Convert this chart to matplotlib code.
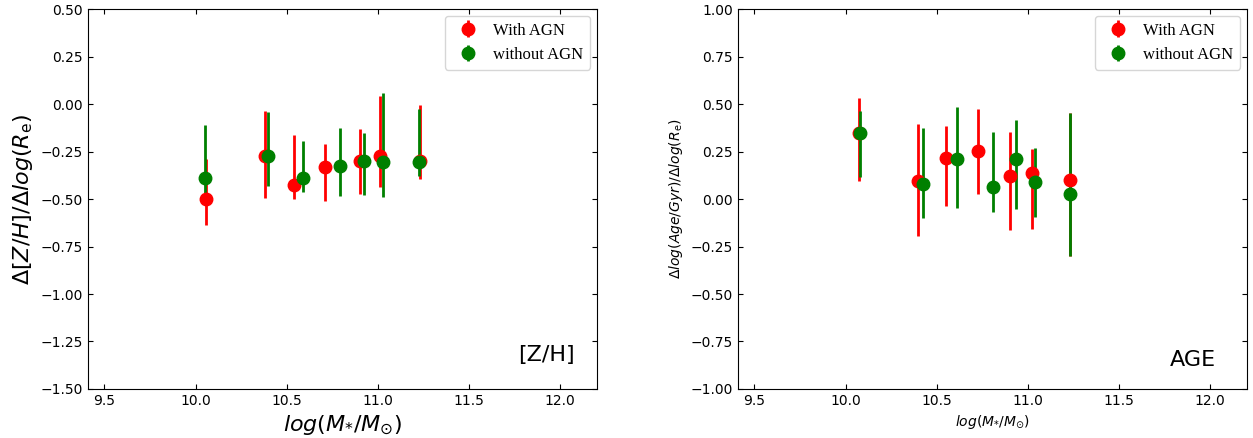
import matplotlib
matplotlib.use("Agg")
import matplotlib.pyplot as plt
import numpy as np

# [Z/H] gradients
zh_mass_agn = [10.06, 10.38, 10.54, 10.71, 10.90, 11.01, 11.23]
zh_agn = [-0.50, -0.274, -0.428, -0.333, -0.302, -0.275, -0.302]
zh_agn_lo = [-0.637, -0.493, -0.497, -0.509, -0.472, -0.435, -0.393]
zh_agn_hi = [-0.29, -0.035, -0.163, -0.212, -0.132, 0.042, -0.005]

zh_mass_noagn = [10.05, 10.40, 10.59, 10.79, 10.925, 11.03, 11.226]
zh_noagn = [-0.389, -0.274, -0.389, -0.328, -0.297, -0.307, -0.307]
zh_noagn_lo = [-0.514, -0.43, -0.465, -0.486, -0.479, -0.491, -0.38]
zh_noagn_hi = [-0.11, -0.044, -0.195, -0.128, -0.154, 0.058, -0.026]

# age gradients
age_mass_agn = [10.074, 10.395, 10.553, 10.725, 10.903, 11.021, 11.23]
age_agn = [0.346, 0.095, 0.217, 0.251, 0.123, 0.137, 0.10]
age_agn_lo = [0.095, -0.195, -0.035, 0.026, -0.163, -0.16, -0.30]
age_agn_hi = [0.53, 0.393, 0.384, 0.474, 0.351, 0.263, 0.454]

age_mass_noagn = [10.079, 10.422, 10.613, 10.81, 10.932, 11.039, 11.23]
age_noagn = [0.349, 0.081, 0.209, 0.063, 0.211, 0.091, 0.028]
age_noagn_lo = [0.114, -0.10, -0.049, -0.07, -0.054, -0.093, -0.30]
age_noagn_hi = [0.463, 0.372, 0.483, 0.354, 0.414, 0.267, 0.451]


def yerr(y, lo, hi):
    y = np.array(y)
    return [y - np.array(lo), np.array(hi) - y]


fig = plt.figure(figsize=(12.53, 4.38), dpi=100)
ax1 = fig.add_axes([0.0702, 0.112, 0.406, 0.867])
ax2 = fig.add_axes([0.589, 0.112, 0.406, 0.867])

for ax, data in [
    (ax1, (zh_mass_agn, zh_agn, zh_agn_lo, zh_agn_hi,
           zh_mass_noagn, zh_noagn, zh_noagn_lo, zh_noagn_hi)),
    (ax2, (age_mass_agn, age_agn, age_agn_lo, age_agn_hi,
           age_mass_noagn, age_noagn, age_noagn_lo, age_noagn_hi)),
]:
    xa, ya, la, ha, xn, yn, ln, hn = data
    ax.errorbar(xa, ya, yerr=yerr(ya, la, ha), fmt='o', color='red',
                ms=9, elinewidth=2, label='With AGN')
    ax.errorbar(xn, yn, yerr=yerr(yn, ln, hn), fmt='o', color='green',
                ms=9, elinewidth=2, label='without AGN')
    ax.set_xlim(9.41, 12.2)
    ax.tick_params(direction='in', top=True, right=True, labelsize=10)
    ax.legend(loc='upper right', handletextpad=0.5, borderaxespad=0.4,
              prop={'family': 'Liberation Serif', 'size': 12})

ax1.set_ylim(-1.5, 0.5)
ax1.set_yticks(np.arange(-1.5, 0.51, 0.25))
ax1.set_ylabel(r'$\Delta[Z/H]/\Delta log(R_{\mathrm{e}})$', fontsize=16)
ax1.set_xlabel(r'$log(M_{*}/M_{\odot})$', fontsize=16)
ax1.text(0.957, 0.089, '[Z/H]', transform=ax1.transAxes, fontsize=16,
         ha='right', va='center')

ax2.set_ylim(-1.0, 1.0)
ax2.set_yticks(np.arange(-1.0, 1.01, 0.25))
ax2.set_ylabel(r'$\Delta log(Age/Gyr)/\Delta log(R_{\mathrm{e}})$', fontsize=10)
ax2.set_xlabel(r'$log(M_{*}/M_{\odot})$', fontsize=10)
ax2.text(0.939, 0.076, 'AGE', transform=ax2.transAxes, fontsize=16,
         ha='right', va='center')

fig.savefig('out.png', dpi=100)
